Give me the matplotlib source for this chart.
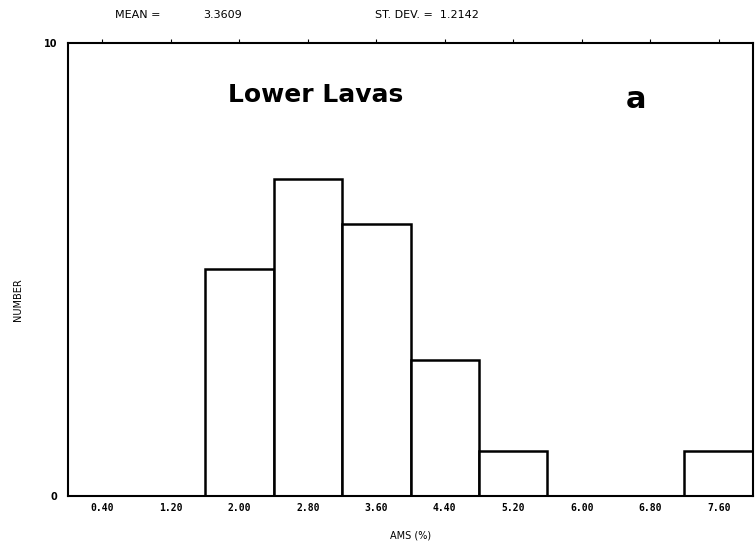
import matplotlib
matplotlib.use("Agg")
import matplotlib.pyplot as plt

bin_centers = [0.40, 1.20, 2.00, 2.80, 3.60, 4.40, 5.20, 6.00, 6.80, 7.60]
counts = [0, 0, 5, 7, 6, 3, 1, 0, 0, 1]
tick_labels = ["0.40", "1.20", "2.00", "2.80", "3.60", "4.40", "5.20", "6.00", "6.80", "7.60"]
bin_width = 0.8

fig = plt.figure(figsize=(7.56, 5.56), dpi=100)
ax = fig.add_axes([0.090, 0.108, 0.906, 0.815])

ax.bar(bin_centers, counts, width=bin_width, color="white", edgecolor="black", linewidth=1.8)

ax.set_xlim(0, 8.0)
ax.set_ylim(0, 10)

ax.set_xticks(bin_centers)
ax.set_xticklabels(tick_labels, fontsize=7, fontweight="bold", family="DejaVu Sans Mono")
ax.tick_params(axis="x", which="both", bottom=False, top=True, direction="out", length=3, pad=2)
ax.set_yticks([0, 10])
ax.set_yticklabels(["0", "10"], fontsize=7, fontweight="bold")
ax.tick_params(axis="y", left=False, pad=4)

for s in ax.spines.values():
    s.set_linewidth(1.5)
    s.set_color("black")

fig.text(18/756, 1 - 300/556, "NUMBER", fontsize=7, rotation=90, va="center", ha="center")
ax.set_xlabel("AMS (%)", fontsize=7, labelpad=13)

fig.text(115/756, 1 - 15/556, "MEAN =", fontsize=8, va="center", ha="left")
fig.text(203/756, 1 - 15/556, "3.3609", fontsize=8, va="center", ha="left")
fig.text(375/756, 1 - 15/556, "ST. DEV. =  1.2142", fontsize=8, va="center", ha="left")

ax.text(228/756, 1 - 95/556, "Lower Lavas", transform=fig.transFigure, fontsize=18,
        fontweight="bold", va="center", ha="left")
ax.text(636/756, 1 - 100/556, "a", transform=fig.transFigure, fontsize=22,
        fontweight="bold", va="center", ha="center")

fig.savefig("out.png", dpi=100)
